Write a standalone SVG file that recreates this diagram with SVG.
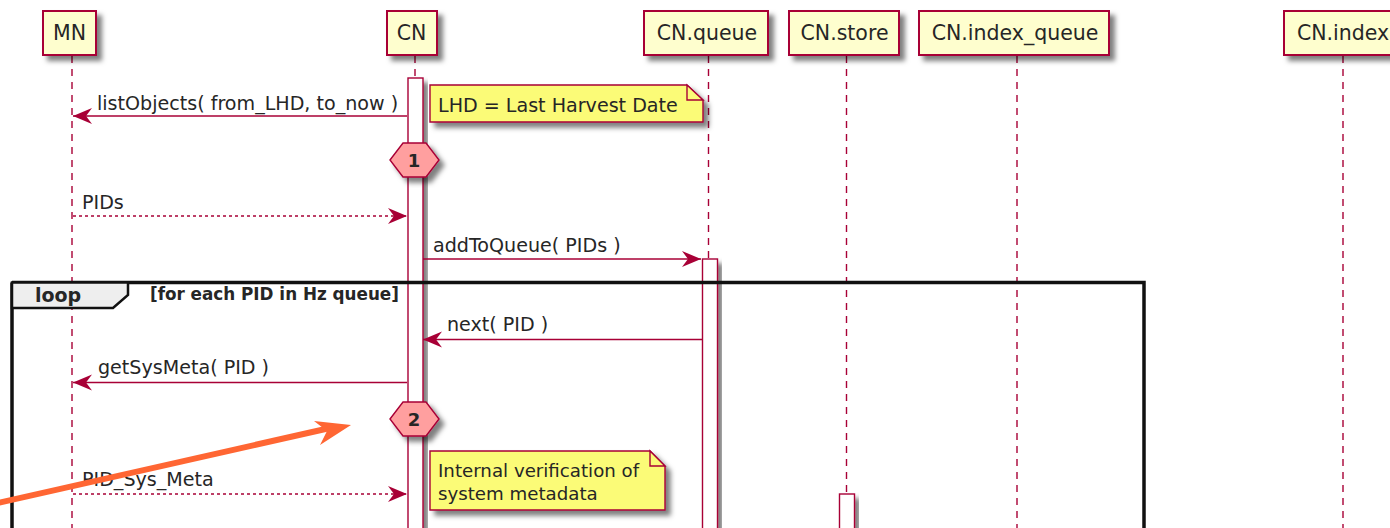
<svg xmlns="http://www.w3.org/2000/svg" width="1390" height="528" viewBox="0 0 1390 528">
<style>
text{font-family:"DejaVu Sans",sans-serif;fill:#262626}
.p{fill:#FEFECE;stroke:#A80036;stroke-width:2}
.pt{font-size:20.500px;text-anchor:middle}
.l{fill:none;stroke:#A80036;stroke-width:1.4;stroke-dasharray:7 6}
.a{fill:#fff;stroke:#A80036;stroke-width:1.400}
.m{fill:none;stroke:#A80036;stroke-width:1.400}
.md{stroke-dasharray:3 3}
.t{font-size:19.100px}
.n{fill:#FBFB77;stroke:#A80036;stroke-width:1.400}
.h{fill:#FF9F9F;stroke:#A80036;stroke-width:1.400}
.hb{font-size:18px;font-weight:bold;text-anchor:middle}
</style>
<defs>
<filter id="s" x="-20%" y="-20%" width="150%" height="150%"><feDropShadow dx="5" dy="5" stdDeviation="2.500" flood-color="#000" flood-opacity=".5"/></filter>
<marker id="ah" markerUnits="userSpaceOnUse" markerWidth="22" markerHeight="18" refX="19" refY="8" orient="auto"><path d="M0 0L19 8L0 16L6 8Z" fill="#A80036"/></marker>
</defs>
<rect width="1390" height="528" fill="#fff"/>
<g id="lifelines">
<path class="l" d="M72 56V528"/><path class="l" d="M415 56V78"/><path class="l" d="M708.500 56V259"/><path class="l" d="M846.500 56V494"/><path class="l" d="M1017 56V528"/><path class="l" d="M1343 56V528"/>
</g>
<g id="MN"><rect class="p" filter="url(#s)" x="43" y="11" width="53" height="44"/><text class="pt" x="69.500" y="40">MN</text></g>
<g id="CN"><rect class="p" filter="url(#s)" x="387" y="11" width="50" height="44"/><text class="pt" x="411.500" y="40">CN</text></g>
<g id="CN.queue"><rect class="p" filter="url(#s)" x="644" y="11" width="124" height="44"/><text class="pt" x="707" y="40">CN.queue</text></g>
<g id="CN.store"><rect class="p" filter="url(#s)" x="789" y="11" width="110" height="44"/><text class="pt" x="844.500" y="40">CN.store</text></g>
<g id="CN.index_queue"><rect class="p" filter="url(#s)" x="919" y="11" width="190" height="44"/><text class="pt" x="1015" y="40">CN.index_queue</text></g>
<g id="CN.index"><rect class="p" filter="url(#s)" x="1284" y="11" width="124" height="44"/><text class="pt" x="1343" y="40">CN.index</text></g>
<g id="activations">
<rect class="a" filter="url(#s)" x="408" y="78" width="15" height="460"/>
<rect class="a" filter="url(#s)" x="702.500" y="259" width="15" height="280"/>
<rect class="a" filter="url(#s)" x="839.500" y="494" width="15" height="50"/>
</g>
<g id="loop">
<path d="M12 282.500H1144V540M12 540V282.500" fill="none" stroke="#111" stroke-width="3.500"/>
<path d="M12 282.500H128V295L113 308H12Z" fill="#EEE" stroke="#111" stroke-width="2.500"/>
<text x="35" y="302" font-size="19" font-weight="bold">loop</text>
<text x="150" y="300" font-size="16.800" font-weight="bold">[for each PID in Hz queue]</text>
</g>
<g id="connectors">
<path class="m" marker-end="url(#ah)" d="M407 116H73"/>
<path class="m md" marker-end="url(#ah)" d="M73 216H407"/>
<path class="m" marker-end="url(#ah)" d="M423 259H701"/>
<path class="m" marker-end="url(#ah)" d="M702 339.500H423"/>
<path class="m" marker-end="url(#ah)" d="M407 382.500H73"/>
<path class="m md" marker-end="url(#ah)" d="M73 494H407"/>
</g>
<g id="labels">
<text class="t" x="97" y="110">listObjects( from_LHD, to_now )</text>
<text class="t" x="82" y="209">PIDs</text>
<text class="t" x="433" y="252">addToQueue( PIDs )</text>
<text class="t" x="447" y="331">next( PID )</text>
<text class="t" x="98" y="374">getSysMeta( PID )</text>
<text class="t" x="82" y="486">PID_Sys_Meta</text>
</g>
<g id="note1"><path class="n" filter="url(#s)" d="M430 85H687L703 100V122H430Z"/><path class="n" d="M687 85V100H703Z"/><text class="t" x="438" y="112">LHD = Last Harvest Date</text></g>
<g id="note2"><path class="n" filter="url(#s)" d="M430 451H650L665 466V510H430Z"/><path class="n" d="M650 451V466H665Z"/><text x="438" y="477" font-size="18.200">Internal verification of</text><text x="438" y="500" font-size="18.200">system metadata</text></g>
<g id="ref1"><path class="h" filter="url(#s)" d="M390 160L403 143H426L439 160L426 177H403Z"/><text class="hb" x="414" y="167">1</text></g>
<g id="ref2"><path class="h" filter="url(#s)" d="M390 419L403 402H426L439 419L426 436H403Z"/><text class="hb" x="414" y="426">2</text></g>
<g id="annotation"><path d="M-2 503L330 428" fill="none" stroke="#FF6633" stroke-width="6"/><path d="M351 425L320 445L327 431L314 421Z" fill="#FF6633"/></g>
</svg>
